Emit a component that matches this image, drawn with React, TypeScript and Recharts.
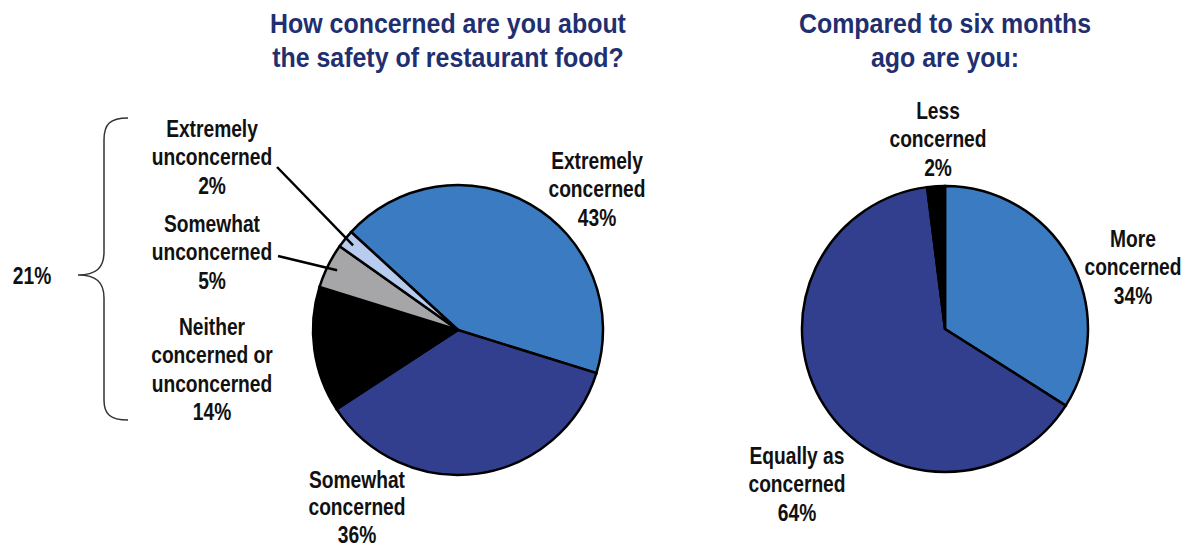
import React from "react";
import { PieChart, Pie, Cell } from "recharts";

// left pie: concern about restaurant food safety
const concernLabels = [
  "Extremely concerned",
  "Somewhat concerned",
  "Neither concerned or unconcerned",
  "Somewhat unconcerned",
  "Extremely unconcerned",
];
const concernValues = [43, 36, 14, 5, 2];
const concernColors = ["#3a7bc1", "#323f8e", "#000000", "#a6a6a9", "#b8ccef"];

// right pie: compared to six months ago
const changeLabels = ["More concerned", "Equally as concerned", "Less concerned"];
const changeValues = [34, 64, 2];
const changeColors = ["#3a7bc1", "#323f8e", "#000000"];

const titleLeft = ["How concerned are you about", "the safety of restaurant food?"];
const titleRight = ["Compared to six months", "ago are you:"];
const bracketLabel = "21%";

const concernData = concernLabels.map((name, i) => ({ name, value: concernValues[i] }));
const changeData = changeLabels.map((name, i) => ({ name, value: changeValues[i] }));

const FONT = "'Liberation Sans', Arial, sans-serif";
const LINE_H = 28.5;

// label text lines + where the block sits (centre x, first line centre y)
const concernLabelLayout = [
  { lines: ["Extremely", "concerned", "43%"], x: 597, y: 160 },
  { lines: ["Somewhat", "concerned", "36%"], x: 357, y: 479, step: 27.5 },
  { lines: ["Neither", "concerned or", "unconcerned", "14%"], x: 212, y: 326 },
  { lines: ["Somewhat", "unconcerned", "5%"], x: 212, y: 223, lineFrom: [278, 256] },
  { lines: ["Extremely", "unconcerned", "2%"], x: 212, y: 128, lineFrom: [277, 167] },
];
const changeLabelLayout = [
  { lines: ["More", "concerned", "34%"], x: 1133, y: 238 },
  { lines: ["Equally as", "concerned", "64%"], x: 797, y: 455 },
  { lines: ["Less", "concerned", "2%"], x: 938, y: 110 },
];

const RADIAN = Math.PI / 180;

// condensed-looking bold text block: Liberation Sans squeezed horizontally
const Block = ({
  x,
  y,
  lines,
  size = 24,
  squeeze = 0.8,
  step = LINE_H,
  color = "#111",
}: {
  x: number;
  y: number;
  lines: string[];
  size?: number;
  squeeze?: number;
  step?: number;
  color?: string;
}) => (
  <g transform={`translate(${x},0) scale(${squeeze},1)`}>
    <text
      x={0}
      y={y}
      textAnchor="middle"
      dominantBaseline="central"
      fontFamily={FONT}
      fontWeight="bold"
      fontSize={size}
      fill={color}
    >
      {lines.map((s, i) => (
        <tspan key={i} x={0} dy={i === 0 ? 0 : step}>
          {s}
        </tspan>
      ))}
    </text>
  </g>
);

const makeLabel = (layout: any[]) => (props: any) => {
  const { cx, cy, midAngle, outerRadius, index } = props;
  const l = layout[index];
  let leader = null;
  if (l.lineFrom) {
    const r = outerRadius * 0.93;
    const ex = cx + r * Math.cos(-midAngle * RADIAN);
    const ey = cy + r * Math.sin(-midAngle * RADIAN);
    leader = (
      <line x1={l.lineFrom[0]} y1={l.lineFrom[1]} x2={ex} y2={ey} stroke="#000" strokeWidth={2.5} />
    );
  }
  return (
    <g key={`lbl-${index}`}>
      {leader}
      <Block x={l.x} y={l.y} lines={l.lines} step={l.step ?? LINE_H} />
    </g>
  );
};

export default function App() {
  return (
    <div style={{ position: "absolute", left: 0, top: 0, width: 1184, height: 548, background: "#fff" }}>
      <svg width={1184} height={548} style={{ position: "absolute", left: 0, top: 0 }}>
        <Block x={448} y={23} lines={titleLeft} size={28} squeeze={0.89} step={34} color="#1f2f70" />
        <Block x={945} y={23} lines={titleRight} size={28} squeeze={0.89} step={34} color="#1f2f70" />
        <path
          d="M128 118 C110 118 104 124 104 140 L104 252 C104 268 96 275 78 275 C96 275 104 282 104 298 L104 400 C104 414 110 420 128 420"
          fill="none"
          stroke="#333"
          strokeWidth={1.5}
        />
        <Block x={32} y={275} lines={[bracketLabel]} />
      </svg>
      <div style={{ position: "absolute", left: 0, top: 0 }}>
        <PieChart width={1184} height={548} margin={{ top: 0, right: 0, bottom: 0, left: 0 }}>
          <Pie
            data={concernData}
            dataKey="value"
            cx={458}
            cy={330}
            outerRadius={145}
            startAngle={137.5}
            endAngle={-222.5}
            stroke="#000"
            strokeWidth={2.5}
            label={makeLabel(concernLabelLayout)}
            labelLine={false}
            isAnimationActive={false}
          >
            {concernData.map((d, i) => (
              <Cell key={d.name} fill={concernColors[i]} />
            ))}
          </Pie>
          <Pie
            data={changeData}
            dataKey="value"
            cx={945}
            cy={329}
            outerRadius={143}
            startAngle={90}
            endAngle={-270}
            stroke="#000"
            strokeWidth={2.5}
            label={makeLabel(changeLabelLayout)}
            labelLine={false}
            isAnimationActive={false}
          >
            {changeData.map((d, i) => (
              <Cell key={d.name} fill={changeColors[i]} />
            ))}
          </Pie>
        </PieChart>
      </div>
    </div>
  );
}
